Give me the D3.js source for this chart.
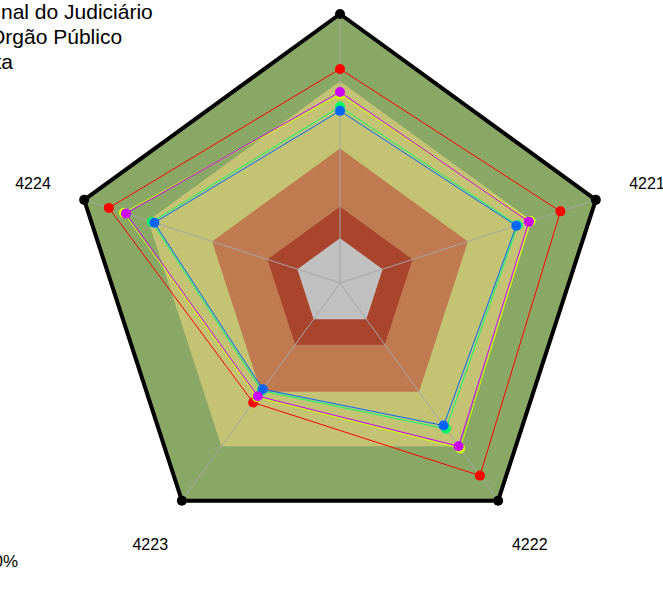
<!DOCTYPE html>
<html>
<head>
<meta charset="utf-8">
<script src="https://cdn.jsdelivr.net/npm/d3@7"></script>
<style>
  html, body { margin: 0; padding: 0; background: #ffffff; }
  svg { display: block; font-family: "Liberation Sans", Arial, sans-serif; }
</style>
</head>
<body>
<svg id="chart" width="663" height="610"></svg>
<script>
// axes, counter-clockwise from the top (fmsb order)
const axes = ["4225", "4224", "4223", "4222", "4221"];

// background bands (upper limit of each band, in %)
const bandLimits = [100, 70, 40, 14, 0];
const bandColors = ["#89a866", "#c4c273", "#c07a50", "#a9452d", "#c0c0c0"];

// series values (%) per axis
const serieMeta     = [75.5, 88.4, 45.9, 86.2, 83.4];
const serieGeral    = [64.0, 81.4, 43.0, 71.2, 69.4];
const serieNacional = [58.6, 68.2, 39.4, 60.4, 63.4];
const serieOrgao    = [56.8, 67.1, 38.6, 58.6, 62.7];
const serieMedia    = [65.2, 80.4, 42.4, 70.0, 68.6];

const seriesNames  = ["Meta", "Média Geral", "nal do Judiciário", "Órgão Público", "ta"];
const seriesColors = ["#ff0000", "#ccff00", "#00ff66", "#0066ff", "#cc00ff"];
const legendStart  = [-11, -11, 1, -11, -4.5];

const series = [serieMeta, serieGeral, serieNacional, serieOrgao, serieMedia];

const svg = d3.select("#chart");
const cx = 340, cy = 283, R = 269;

// fmsb style: value 0 sits at 1/6 of the radius
const r = d3.scaleLinear().domain([0, 100]).range([R / 6, R]);
const angle = i => -Math.PI / 2 - i * 2 * Math.PI / axes.length;
const pt = (i, v) => [cx + r(v) * Math.cos(angle(i)), cy + r(v) * Math.sin(angle(i))];
const ring = v => axes.map((a, i) => pt(i, v));
const line = d3.line().curve(d3.curveLinearClosed);

// bands
svg.append("g").selectAll("path")
  .data(bandLimits)
  .join("path")
  .attr("d", v => line(ring(v)))
  .attr("fill", (v, i) => bandColors[i]);

// axis lines
svg.append("g").selectAll("line")
  .data(axes)
  .join("line")
  .attr("x1", cx).attr("y1", cy)
  .attr("x2", (a, i) => pt(i, 100)[0])
  .attr("y2", (a, i) => pt(i, 100)[1])
  .attr("stroke", "#a6a6a6")
  .attr("stroke-width", 1);

// outer border with vertex dots
svg.append("path")
  .attr("d", line(ring(100)))
  .attr("fill", "none")
  .attr("stroke", "#000")
  .attr("stroke-width", 4)
  .attr("stroke-linejoin", "round");

svg.append("g").selectAll("circle")
  .data(ring(100))
  .join("circle")
  .attr("cx", d => d[0]).attr("cy", d => d[1])
  .attr("r", 5)
  .attr("fill", "#000");

// series
series.forEach((vals, s) => {
  const pts = vals.map((v, i) => pt(i, v));
  const g = svg.append("g");
  g.append("path")
    .attr("d", line(pts))
    .attr("fill", "none")
    .attr("stroke", seriesColors[s])
    .attr("stroke-width", 1);
  g.selectAll("circle")
    .data(pts)
    .join("circle")
    .attr("cx", d => d[0]).attr("cy", d => d[1])
    .attr("r", 5)
    .attr("fill", seriesColors[s]);
});

// axis labels
svg.append("g").selectAll("text")
  .data(axes)
  .join("text")
  .attr("x", (a, i) => cx + 1.2 * R * Math.cos(angle(i)))
  .attr("y", (a, i) => cy + 1.2 * R * Math.sin(angle(i)))
  .attr("text-anchor", "middle")
  .attr("dominant-baseline", "central")
  .attr("font-size", 16)
  .attr("fill", "#000")
  .text(d => d);

// legend (left part is cut off by the window)
svg.append("g").selectAll("text")
  .data(seriesNames)
  .join("text")
  .attr("x", (d, i) => legendStart[i])
  .attr("y", (d, i) => -31 + i * 25)
  .attr("font-size", 21)
  .attr("fill", "#000")
  .text(d => d);

svg.append("text")
  .attr("x", 18).attr("y", 567)
  .attr("text-anchor", "end")
  .attr("font-size", 17)
  .attr("fill", "#000")
  .text("100%");
</script>
</body>
</html>
